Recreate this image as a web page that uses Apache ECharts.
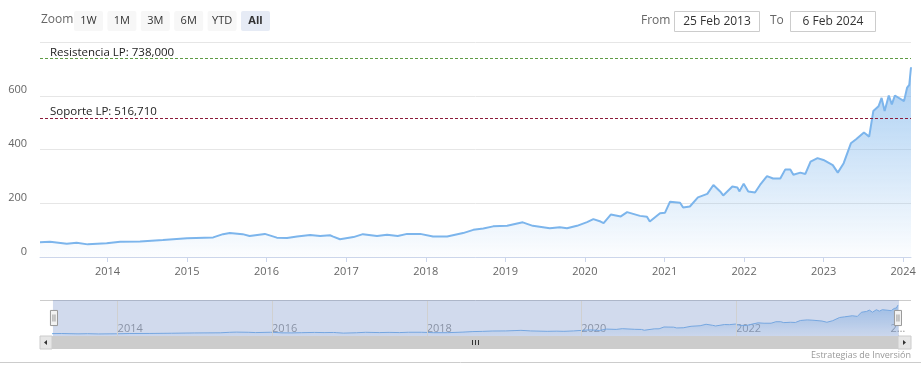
<!DOCTYPE html>
<html>
<head>
<meta charset="utf-8">
<script src="https://cdn.jsdelivr.net/npm/echarts@6/dist/echarts.min.js"></script>
<style>
  html, body { margin: 0; padding: 0; background: #fff; }
  #chart { width: 921px; height: 378px; }
</style>
</head>
<body>
<div id="chart"></div>
<script>
// Weekly-ish closes
const dates = [
  '2013-02-25', '2013-04-12', '2013-06-28', '2013-08-12', '2013-10-02', '2013-12-28',
  '2014-02-28', '2014-05-30', '2014-09-12', '2015-01-01', '2015-05-01', '2015-06-15',
  '2015-07-16', '2015-09-13', '2015-10-15', '2015-12-24', '2016-02-17', '2016-04-04',
  '2016-05-20', '2016-07-19', '2016-09-03', '2016-10-18', '2016-11-02', '2016-12-03',
  '2017-02-03', '2017-03-18', '2017-05-22', '2017-07-07', '2017-08-25', '2017-10-07',
  '2017-12-06', '2018-02-03', '2018-04-09', '2018-06-21', '2018-08-07', '2018-09-22',
  '2018-11-06', '2019-01-09', '2019-03-22', '2019-05-07', '2019-07-24', '2019-09-08',
  '2019-10-11', '2019-11-26', '2020-01-11', '2020-02-09', '2020-03-13', '2020-03-27',
  '2020-04-29', '2020-06-14', '2020-07-13', '2020-09-10', '2020-10-12', '2020-10-25',
  '2020-12-11', '2021-01-03', '2021-01-26', '2021-03-13', '2021-03-27', '2021-04-27',
  '2021-06-03', '2021-07-16', '2021-08-13', '2021-09-13', '2021-09-27', '2021-11-08',
  '2021-12-01', '2021-12-10', '2021-12-30', '2022-01-20', '2022-02-20', '2022-03-15',
  '2022-04-16', '2022-05-14', '2022-06-16', '2022-07-09', '2022-08-01', '2022-08-15',
  '2022-09-16', '2022-10-09', '2022-11-02', '2022-12-04', '2022-12-31', '2023-02-12',
  '2023-03-07', '2023-04-03', '2023-05-06', '2023-05-30', '2023-07-05', '2023-07-29',
  '2023-08-17', '2023-09-10', '2023-09-24', '2023-10-08', '2023-10-27', '2023-11-10',
  '2023-11-24', '2024-01-05', '2024-01-19', '2024-01-29', '2024-02-06'
];
const prices = [
  55, 57, 49, 53, 47, 51,
  57, 58, 63, 70, 73, 85,
  89, 85, 78, 86, 72, 71,
  76, 82, 78, 81, 76, 66,
  74, 85, 78, 83, 78, 86,
  86, 76, 76, 89, 101, 106,
  114, 116, 129, 116, 107, 111,
  107, 116, 130, 141, 132, 126,
  158, 151, 167, 153, 150, 132,
  163, 165, 206, 202, 184, 188,
  222, 235, 268, 244, 229, 262,
  259, 244, 273, 244, 240, 268,
  301, 292, 292, 326, 326, 306,
  314, 309, 355, 368, 361, 342,
  314, 349, 423, 438, 463, 448,
  543, 561, 592, 543, 601, 568,
  601, 580, 630, 640, 706
];

// Horizontal levels
const levelNames = ['Resistencia LP', 'Soporte LP'];
const levelValues = [738, 516.71];
const levelColors = ['#5e9b45', '#8b1a3a'];

// Navigator grid years
const navYears = ['2014-01-01', '2016-01-01', '2018-01-01', '2020-01-01', '2022-01-01', '2024-01-01'];

// Range selector texts
const zoomButtons = ['1W', '1M', '3M', '6M', 'YTD', 'All'];
const fromDate = '25 Feb 2013';
const toDate = '6 Feb 2024';

const seriesData = dates.map((d, i) => [d, prices[i]]);
const YEAR = 365 * 24 * 3600 * 1000;

const blueFill = (a, b) => new echarts.graphic.LinearGradient(0, 0, 0, 1, [
  { offset: 0, color: 'rgba(124,181,236,' + a + ')' },
  { offset: 1, color: 'rgba(124,181,236,' + b + ')' }
]);

// top bar: zoom buttons and date boxes
const graphics = [
  { type: 'text', left: 41, top: 14, style: { text: 'Zoom', fill: '#666', font: '12px "Open Sans"' } }
];
zoomButtons.forEach((b, i) => {
  const x = 74 + i * 33.4;
  const sel = b === 'All';
  graphics.push({
    type: 'rect', shape: { x: x, y: 11, width: 29, height: 20, r: 2 },
    style: { fill: sel ? '#e6ebf5' : '#f7f7f7' }
  });
  graphics.push({
    type: 'text', x: x + 14.5, y: 21,
    style: { text: b, fill: '#333', font: (sel ? 'bold ' : '') + '11px "Open Sans"', align: 'center', verticalAlign: 'middle' }
  });
});
graphics.push(
  { type: 'text', x: 641, y: 21, style: { text: 'From', fill: '#666', font: '12px "Open Sans"', verticalAlign: 'middle' } },
  { type: 'rect', shape: { x: 674.5, y: 11.5, width: 85, height: 20 }, style: { fill: '#fff', stroke: '#ccc', lineWidth: 1 } },
  { type: 'text', x: 717, y: 21.5, style: { text: fromDate, fill: '#333', font: '12px "Open Sans"', align: 'center', verticalAlign: 'middle' } },
  { type: 'text', x: 770, y: 21, style: { text: 'To', fill: '#666', font: '12px "Open Sans"', verticalAlign: 'middle' } },
  { type: 'rect', shape: { x: 790.5, y: 11.5, width: 85, height: 20 }, style: { fill: '#fff', stroke: '#ccc', lineWidth: 1 } },
  { type: 'text', x: 833, y: 21.5, style: { text: toDate, fill: '#333', font: '12px "Open Sans"', align: 'center', verticalAlign: 'middle' } }
);
// navigator outline + scrollbar
graphics.push(
  { type: 'line', shape: { x1: 40, y1: 300.5, x2: 911, y2: 300.5 }, style: { stroke: '#cccccc', lineWidth: 1 }, z: 1 },
  { type: 'rect', shape: { x: 40, y: 336, width: 871, height: 13 }, style: { fill: '#f2f2f2' } },
  { type: 'rect', shape: { x: 52, y: 336, width: 846, height: 13 }, style: { fill: '#cccccc' } },
  { type: 'rect', shape: { x: 40, y: 336, width: 12, height: 13 }, style: { fill: '#e6e6e6', stroke: '#cccccc', lineWidth: 1 } },
  { type: 'polygon', shape: { points: [[44, 342.5], [47, 340], [47, 345]] }, style: { fill: '#333' } },
  { type: 'rect', shape: { x: 898, y: 336, width: 13, height: 13 }, style: { fill: '#e6e6e6', stroke: '#cccccc', lineWidth: 1 } },
  { type: 'polygon', shape: { points: [[906, 342.5], [903, 340], [903, 345]] }, style: { fill: '#333' } },
  { type: 'line', shape: { x1: 472.5, y1: 340, x2: 472.5, y2: 345 }, style: { stroke: '#333', lineWidth: 1 } },
  { type: 'line', shape: { x1: 475.5, y1: 340, x2: 475.5, y2: 345 }, style: { stroke: '#333', lineWidth: 1 } },
  { type: 'line', shape: { x1: 478.5, y1: 340, x2: 478.5, y2: 345 }, style: { stroke: '#333', lineWidth: 1 } },
  { type: 'line', shape: { x1: 0, y1: 362.5, x2: 921, y2: 362.5 }, style: { stroke: '#cccccc', lineWidth: 1 } },
  { type: 'text', right: 10, top: 351, style: { text: 'Estrategias de Inversión', fill: '#999', font: '9px "Open Sans"' } }
);

const option = {
  animation: false,
  textStyle: { fontFamily: 'Open Sans' },
  grid: [
    { left: 40, right: 10, top: 42, height: 215 },
    { left: 52, right: 23, top: 301, height: 35 }
  ],
  xAxis: [
    {
      type: 'time', gridIndex: 0,
      min: '2013-02-25', max: '2024-02-06',
      minInterval: YEAR, maxInterval: YEAR * 1.01,
      axisLine: { lineStyle: { color: '#ccd6eb' } },
      axisTick: { length: 5, lineStyle: { color: '#ccd6eb' } },
      axisLabel: { formatter: '{yyyy}', color: '#666', fontSize: 11, margin: 9, fontWeight: 'normal' },
      splitLine: { show: false }
    },
    {
      type: 'time', gridIndex: 1,
      min: '2013-02-25', max: '2024-02-06',
      minInterval: YEAR, maxInterval: YEAR * 1.01,
      axisLine: { show: false },
      axisTick: { show: false },
      axisLabel: {
        inside: true, align: 'left', margin: 2, color: '#999', fontSize: 11,
        formatter: v => {
          const y = new Date(v).getFullYear();
          if (y % 2) return '';
          return y >= 2024 ? '2…' : String(y);
        }
      },
      splitLine: { show: false }
    }
  ],
  yAxis: [
    {
      type: 'value', gridIndex: 0, min: 0, max: 800, interval: 200,
      axisLine: { show: false }, axisTick: { show: false },
      axisLabel: { color: '#666', fontSize: 11, margin: 13, verticalAlign: 'bottom', showMaxLabel: false },
      splitLine: { lineStyle: { color: '#e6e6e6' } }
    },
    {
      type: 'value', gridIndex: 1, min: 0, max: 800,
      axisLine: { show: false }, axisTick: { show: false },
      axisLabel: { show: false }, splitLine: { show: false }
    }
  ],
  dataZoom: [{
    type: 'slider', xAxisIndex: 0,
    left: 52, right: 23, top: 300, height: 36,
    start: 0, end: 100,
    showDataShadow: false, showDetail: false, brushSelect: false,
    backgroundColor: 'transparent', borderColor: 'transparent',
    fillerColor: 'rgba(102,133,194,0.3)',
    handleIcon: 'path://M0,0H7V15H0Z M2.5,4V11 M4.5,4V11',
    handleSize: '42%',
    handleStyle: { color: '#f2f2f2', borderColor: '#999', borderWidth: 1 },
    moveHandleSize: 0
  }],
  series: [
    {
      name: 'Precio', type: 'line', xAxisIndex: 0, yAxisIndex: 0,
      data: seriesData, showSymbol: false, silent: true,
      lineStyle: { color: '#7cb5ec', width: 2 },
      areaStyle: { color: blueFill(0.95, 0.03) },
      markLine: {
        silent: true, symbol: 'none',
        data: levelValues.map((v, i) => ({
          yAxis: v,
          lineStyle: { color: levelColors[i], type: [3, 2], width: 1 },
          label: {
            formatter: levelNames[i] + ': ' + v.toFixed(3).replace('.', ','),
            position: 'insideStartTop', distance: [10, 0],
            color: '#222', fontSize: 11.5
          }
        }))
      }
    },
    {
      name: 'Navigator', type: 'line', xAxisIndex: 1, yAxisIndex: 1,
      data: seriesData, showSymbol: false, silent: true,
      lineStyle: { color: '#7cb5ec', width: 1 },
      areaStyle: { color: blueFill(0.8, 0.1) },
      markLine: {
        silent: true, symbol: 'none', label: { show: false },
        lineStyle: { color: '#d0d0d0', type: 'solid', width: 1 },
        data: navYears.slice(0, -1).map(d => ({ xAxis: d }))
      }
    }
  ],
  graphic: graphics
};

const chart = echarts.init(document.getElementById('chart'));
chart.setOption(option);
</script>
</body>
</html>
